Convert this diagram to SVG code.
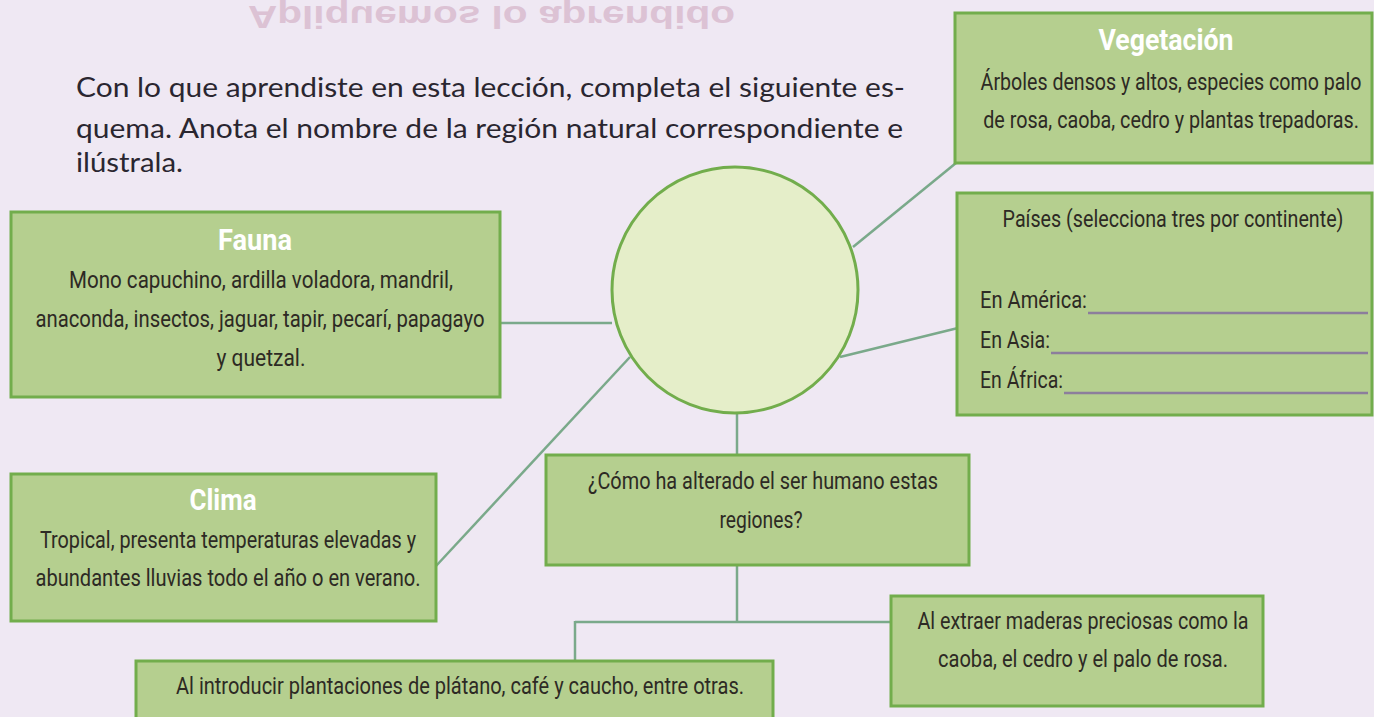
<svg xmlns="http://www.w3.org/2000/svg" width="1374" height="717" viewBox="0 0 1374 717">
<defs>
<style>
.box{fill:#b5cf8f;stroke:#72ad4c;stroke-width:3}
.t{font-family:"Liberation Sans Narrow","Roboto","Liberation Sans",sans-serif;font-size:24px;fill:#2d2a24;text-anchor:middle}
.tl{font-family:"Liberation Sans Narrow","Roboto","Liberation Sans",sans-serif;font-size:24px;fill:#2d2a24}
.h{font-family:"Liberation Sans Narrow","Roboto","Liberation Sans",sans-serif;font-size:29px;font-weight:bold;fill:#ffffff;text-anchor:middle}
.intro{font-family:"Lato","Liberation Sans",sans-serif;font-size:26px;fill:#2a2630}
.con{stroke:#7aa98a;stroke-width:2.5;fill:none}
.blank{stroke:#8c7e9c;stroke-width:2.5}
</style>
</defs>
<rect x="0" y="0" width="1374" height="717" fill="#efe8f3"/>
<text transform="scale(1,-1)" x="248" y="-6" font-family="Liberation Sans, sans-serif" font-weight="bold" font-size="32" fill="#dcc2d4" textLength="487" lengthAdjust="spacingAndGlyphs">Apliquemos lo aprendido</text>
<g id="intro">
<text class="intro" x="76" y="97" textLength="829" lengthAdjust="spacingAndGlyphs">Con lo que aprendiste en esta lección, completa el siguiente es-</text>
<text class="intro" x="76" y="138" textLength="827" lengthAdjust="spacingAndGlyphs">quema. Anota el nombre de la región natural correspondiente e</text>
<text class="intro" x="76" y="172" textLength="107" lengthAdjust="spacingAndGlyphs">ilústrala.</text>
</g>
<g id="connectors">
<line class="con" x1="853" y1="247" x2="956" y2="163"/>
<line class="con" x1="840" y1="357" x2="958" y2="328"/>
<line class="con" x1="500" y1="323" x2="612" y2="323"/>
<line class="con" x1="436" y1="566" x2="630" y2="357"/>
<line class="con" x1="737" y1="414" x2="737" y2="454"/>
<line class="con" x1="737" y1="565" x2="737" y2="622"/>
<line class="con" x1="575" y1="622" x2="891" y2="622"/>
<line class="con" x1="575" y1="621" x2="575" y2="660"/>
</g>
<g id="vegetacion">
<rect class="box" x="955" y="13" width="417" height="150"/>
<text class="h" x="1166" y="50" textLength="135" lengthAdjust="spacingAndGlyphs">Vegetación</text>
<text class="t" transform="translate(1171,0) scale(0.85,1)" x="0" y="90" textLength="448" lengthAdjust="spacingAndGlyphs">Árboles densos y altos, especies como palo</text>
<text class="t" transform="translate(1171,0) scale(0.85,1)" x="0" y="128" textLength="442" lengthAdjust="spacingAndGlyphs">de rosa, caoba, cedro y plantas trepadoras.</text>
</g>
<g id="paises">
<rect class="box" x="957" y="193" width="415" height="222"/>
<text class="t" transform="translate(1173,0) scale(0.85,1)" x="0" y="227" textLength="401" lengthAdjust="spacingAndGlyphs">Países (selecciona tres por continente)</text>
<text class="tl" x="980" y="308" textLength="107" lengthAdjust="spacingAndGlyphs">En América:</text>
<line class="blank" x1="1088" y1="313" x2="1368" y2="313"/>
<text class="tl" x="980" y="348" textLength="70" lengthAdjust="spacingAndGlyphs">En Asia:</text>
<line class="blank" x1="1051" y1="353" x2="1368" y2="353"/>
<text class="tl" x="980" y="388" textLength="83" lengthAdjust="spacingAndGlyphs">En África:</text>
<line class="blank" x1="1064" y1="393" x2="1368" y2="393"/>
</g>
<g id="fauna">
<rect class="box" x="11" y="212" width="489" height="185"/>
<text class="h" x="255" y="250" textLength="74" lengthAdjust="spacingAndGlyphs">Fauna</text>
<text class="t" x="261" y="288" textLength="384" lengthAdjust="spacingAndGlyphs">Mono capuchino, ardilla voladora, mandril,</text>
<text class="t" x="260" y="327" textLength="449" lengthAdjust="spacingAndGlyphs">anaconda, insectos, jaguar, tapir, pecarí, papagayo</text>
<text class="t" x="261" y="366" textLength="89" lengthAdjust="spacingAndGlyphs">y quetzal.</text>
</g>
<g id="region">
<circle cx="735" cy="290" r="123" fill="#e5eec9" stroke="#72ad4c" stroke-width="3"/>
</g>
<g id="clima">
<rect class="box" x="11" y="474" width="425" height="147"/>
<text class="h" x="223" y="510" textLength="67" lengthAdjust="spacingAndGlyphs">Clima</text>
<text class="t" x="228" y="548" textLength="376" lengthAdjust="spacingAndGlyphs">Tropical, presenta temperaturas elevadas y</text>
<text class="t" x="228" y="586" textLength="385" lengthAdjust="spacingAndGlyphs">abundantes lluvias todo el año o en verano.</text>
</g>
<g id="pregunta">
<rect class="box" x="546" y="455" width="423" height="110"/>
<text class="t" x="763" y="489" textLength="350" lengthAdjust="spacingAndGlyphs">¿Cómo ha alterado el ser humano estas</text>
<text class="t" x="761" y="528" textLength="83" lengthAdjust="spacingAndGlyphs">regiones?</text>
</g>
<g id="extraer">
<rect class="box" x="891" y="596" width="372" height="110"/>
<text class="t" x="1083" y="629" textLength="331" lengthAdjust="spacingAndGlyphs">Al extraer maderas preciosas como la</text>
<text class="t" x="1083" y="667" textLength="290" lengthAdjust="spacingAndGlyphs">caoba, el cedro y el palo de rosa.</text>
</g>
<g id="introducir">
<rect class="box" x="136" y="661" width="637" height="70"/>
<text class="t" x="460" y="694" textLength="568" lengthAdjust="spacingAndGlyphs">Al introducir plantaciones de plátano, café y caucho, entre otras.</text>
</g>
</svg>
